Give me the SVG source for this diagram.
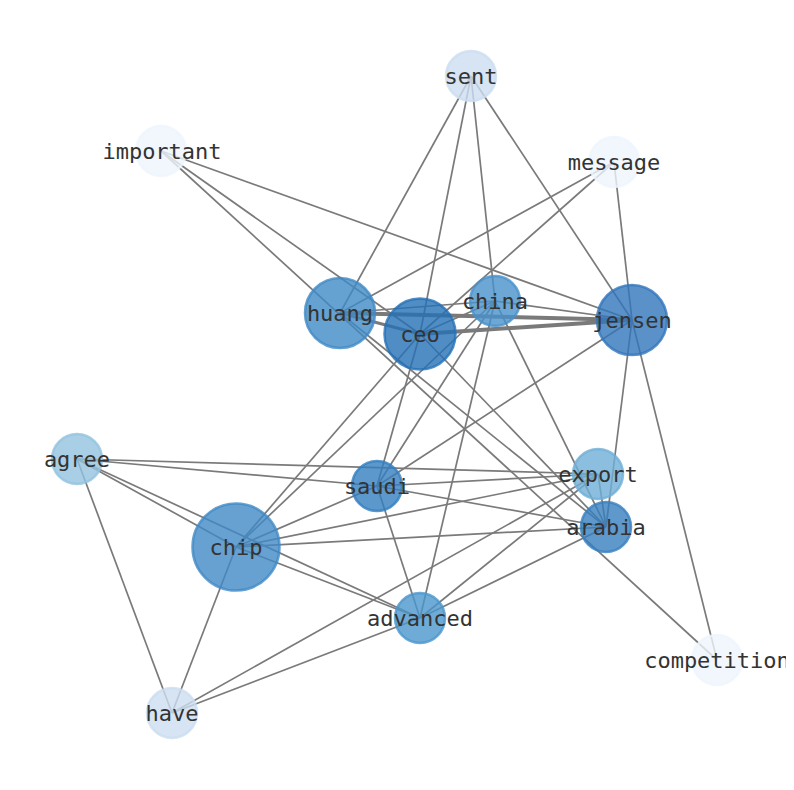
<svg xmlns="http://www.w3.org/2000/svg" width="794" height="790" viewBox="0 0 794 790">
<style>
.e{stroke:#7a7a7a;stroke-width:1.7;fill:none;stroke-linecap:butt}
.t{stroke-width:4}
.m{stroke-width:3}
.n{fill-opacity:0.8;stroke-opacity:0.8;stroke-width:2.5}
.l{font-family:"DejaVu Sans Mono",monospace;font-size:22px;fill:#333;text-anchor:middle}
</style>
<defs>
<clipPath id="ax"><rect x="0" y="0" width="786" height="790"/></clipPath>
</defs>
<rect width="794" height="790" fill="#fff"/>
<g id="edges">
<line class="e" x1="471" y1="76" x2="340" y2="313"/>
<line class="e" x1="471" y1="76" x2="420" y2="334"/>
<line class="e" x1="471" y1="76" x2="495" y2="301"/>
<line class="e" x1="471" y1="76" x2="632" y2="320"/>
<line class="e" x1="161" y1="151" x2="632" y2="320"/>
<line class="e" x1="161" y1="151" x2="420" y2="334"/>
<line class="e" x1="161" y1="151" x2="717" y2="660"/>
<line class="e" x1="614" y1="162" x2="340" y2="313"/>
<line class="e" x1="614" y1="162" x2="420" y2="334"/>
<line class="e" x1="614" y1="162" x2="632" y2="320"/>
<line class="e t" x1="340" y1="313" x2="632" y2="320"/>
<line class="e m" x1="340" y1="313" x2="420" y2="334"/>
<line class="e" x1="340" y1="313" x2="495" y2="301"/>
<line class="e" x1="340" y1="313" x2="606" y2="527"/>
<line class="e t" x1="420" y1="334" x2="632" y2="320"/>
<line class="e" x1="420" y1="334" x2="495" y2="301"/>
<line class="e" x1="420" y1="334" x2="236" y2="547"/>
<line class="e" x1="420" y1="334" x2="377" y2="486"/>
<line class="e" x1="420" y1="334" x2="606" y2="527"/>
<line class="e" x1="495" y1="301" x2="632" y2="320"/>
<line class="e" x1="495" y1="301" x2="236" y2="547"/>
<line class="e" x1="495" y1="301" x2="377" y2="486"/>
<line class="e" x1="495" y1="301" x2="606" y2="527"/>
<line class="e" x1="495" y1="301" x2="420" y2="618"/>
<line class="e" x1="632" y1="320" x2="377" y2="486"/>
<line class="e" x1="632" y1="320" x2="606" y2="527"/>
<line class="e" x1="632" y1="320" x2="717" y2="660"/>
<line class="e" x1="77" y1="459" x2="598" y2="474"/>
<line class="e" x1="77" y1="459" x2="377" y2="486"/>
<line class="e" x1="77" y1="459" x2="236" y2="547"/>
<line class="e" x1="77" y1="459" x2="420" y2="618"/>
<line class="e" x1="77" y1="459" x2="172" y2="713"/>
<line class="e" x1="598" y1="474" x2="377" y2="486"/>
<line class="e" x1="598" y1="474" x2="236" y2="547"/>
<line class="e" x1="598" y1="474" x2="172" y2="713"/>
<line class="e" x1="598" y1="474" x2="420" y2="618"/>
<line class="e" x1="598" y1="474" x2="606" y2="527"/>
<line class="e" x1="377" y1="486" x2="606" y2="527"/>
<line class="e" x1="377" y1="486" x2="236" y2="547"/>
<line class="e" x1="377" y1="486" x2="420" y2="618"/>
<line class="e" x1="606" y1="527" x2="236" y2="547"/>
<line class="e" x1="606" y1="527" x2="420" y2="618"/>
<line class="e" x1="236" y1="547" x2="420" y2="618"/>
<line class="e" x1="236" y1="547" x2="172" y2="713"/>
<line class="e" x1="420" y1="618" x2="172" y2="713"/>
</g>
<g id="node-sent"><circle class="n" cx="471" cy="76" r="25" fill="#ccddf0" stroke="#ccddf0"/><text class="l" x="471" y="83.5">sent</text></g>
<g id="node-important"><circle class="n" cx="161" cy="151" r="25" fill="#eef5fc" stroke="#eef5fc"/><text class="l" x="162" y="158.5">important</text></g>
<g id="node-message"><circle class="n" cx="614" cy="162" r="25" fill="#eef5fc" stroke="#eef5fc"/><text class="l" x="614" y="169.5">message</text></g>
<g id="node-huang"><circle class="n" cx="340" cy="313" r="35" fill="#3f89c6" stroke="#3f89c6"/><text class="l" x="340" y="320.5">huang</text></g>
<g id="node-china"><circle class="n" cx="495" cy="301" r="25" fill="#4791cb" stroke="#4791cb"/><text class="l" x="495" y="308.5">china</text></g>
<g id="node-ceo"><circle class="n" cx="420" cy="334" r="35.5" fill="#2470b7" stroke="#2470b7"/><text class="l" x="420" y="341.5">ceo</text></g>
<g id="node-jensen"><circle class="n" cx="632" cy="320" r="35" fill="#3176bb" stroke="#3176bb"/><text class="l" x="632" y="327.5">jensen</text></g>
<g id="node-agree"><circle class="n" cx="77" cy="459" r="25" fill="#92c3df" stroke="#92c3df"/><text class="l" x="77" y="466.5">agree</text></g>
<g id="node-export"><circle class="n" cx="598" cy="474" r="25" fill="#6fafd7" stroke="#6fafd7"/><text class="l" x="598" y="481.5">export</text></g>
<g id="node-saudi"><circle class="n" cx="377" cy="486" r="25" fill="#337ebf" stroke="#337ebf"/><text class="l" x="377" y="493.5">saudi</text></g>
<g id="node-arabia"><circle class="n" cx="606" cy="527" r="25" fill="#377fbf" stroke="#377fbf"/><text class="l" x="606" y="534.5">arabia</text></g>
<g id="node-chip"><circle class="n" cx="236" cy="547" r="43.5" fill="#4089c6" stroke="#4089c6"/><text class="l" x="236" y="554.5">chip</text></g>
<g id="node-advanced"><circle class="n" cx="420" cy="618" r="25" fill="#4b96cd" stroke="#4b96cd"/><text class="l" x="420" y="625.5">advanced</text></g>
<g id="node-competition"><circle class="n" cx="717" cy="660" r="25" fill="#eef5fc" stroke="#eef5fc"/><text class="l" x="717" y="667.5" clip-path="url(#ax)">competition</text></g>
<g id="node-have"><circle class="n" cx="172" cy="713" r="25" fill="#ccddf0" stroke="#ccddf0"/><text class="l" x="172" y="720.5">have</text></g>
</svg>
